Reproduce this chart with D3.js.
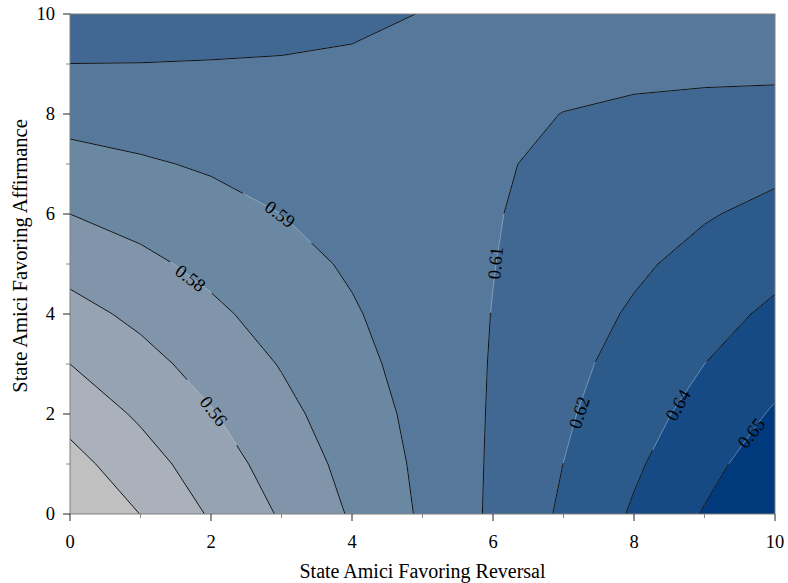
<!DOCTYPE html>
<html>
<head>
<meta charset="utf-8">
<script src="https://cdn.jsdelivr.net/npm/d3@7"></script>
<style>
  body { margin: 0; background: #fff; }
  svg { display: block; }
  text { font-family: "Liberation Serif", "Times New Roman", serif; fill: #000; }
</style>
</head>
<body>
<svg id="chart" width="788" height="583"></svg>
<script>
// Number of state amici on each side (grid axes)
const reversalAmici = [0, 1, 2, 3, 4, 5, 6, 7, 8, 9, 10];
const affirmanceAmici = [0, 1, 2, 3, 4, 5, 6, 7, 8, 9, 10];

// Predicted probability, one column per count of reversal amici,
// listed from 0 to 10 affirmance amici.
const rev0  = [0.515, 0.525, 0.535, 0.545, 0.555, 0.565, 0.575, 0.585, 0.595, 0.6049, 0.615];
const rev1  = [0.5302, 0.5387, 0.5472, 0.5552, 0.5633, 0.5717, 0.5800, 0.5884, 0.5966, 0.6048, 0.6131];
const rev2  = [0.5465, 0.5528, 0.5590, 0.5656, 0.5722, 0.5787, 0.5851, 0.5916, 0.5980, 0.6045, 0.6105];
const rev3  = [0.5615, 0.5663, 0.5711, 0.5758, 0.5806, 0.5853, 0.5900, 0.5947, 0.5994, 0.6042, 0.6089];
const rev4  = [0.5765, 0.5795, 0.5826, 0.5857, 0.5887, 0.5917, 0.5947, 0.5977, 0.6008, 0.6038, 0.6068];
const rev5  = [0.5920, 0.5930, 0.5942, 0.5958, 0.5970, 0.5980, 0.5990, 0.6000, 0.6010, 0.6025, 0.6048];
const rev6  = [0.6073, 0.6068, 0.6063, 0.6058, 0.6053, 0.6047, 0.6042, 0.6038, 0.6035, 0.6032, 0.6030];
const rev7  = [0.6223, 0.6201, 0.6179, 0.6158, 0.6137, 0.6115, 0.6094, 0.6072, 0.6051, 0.6030, 0.6008];
const rev8  = [0.6367, 0.6329, 0.6291, 0.6254, 0.6216, 0.6178, 0.6140, 0.6102, 0.6065, 0.6027, 0.5990];
const rev9  = [0.6510, 0.6457, 0.6403, 0.6350, 0.6296, 0.6243, 0.6189, 0.6134, 0.6079, 0.6024, 0.5969];
const rev10 = [0.6650, 0.6583, 0.6516, 0.6447, 0.6378, 0.6307, 0.6236, 0.6166, 0.6092, 0.6020, 0.5949];

// Contour levels and band colours (lowest band first)
const levels = [0.53, 0.545, 0.56, 0.575, 0.59, 0.605, 0.62, 0.635, 0.65];
const bandColors = ["#c0c0c0", "#aab1ba", "#95a3b2", "#8095aa", "#6b88a3",
                    "#56789b", "#406892", "#2c5a8b", "#164a84", "#003a7c"];

// Axis ticks
const majorTicks = [0, 2, 4, 6, 8, 10];
const minorTicks = [1, 3, 5, 7, 9];

// Where the inline level labels sit (data units), their angle and the gap cut in the line
const labelSpots = [
  { level: 0.56,  x: 2.04, y: 2.06, angle: 52,  gap: 82 },
  { level: 0.575, x: 1.71, y: 4.72, angle: 37,  gap: 52 },
  { level: 0.59,  x: 2.98, y: 6.00, angle: 37,  gap: 85 },
  { level: 0.605, x: 6.03, y: 5.02, angle: -85, gap: 100 },
  { level: 0.62,  x: 7.22, y: 2.03, angle: -72, gap: 106 },
  { level: 0.635, x: 8.62, y: 2.18, angle: -61, gap: 103 },
  { level: 0.65,  x: 9.66, y: 1.62, angle: -52, gap: 76 }
];

const margin = { left: 70, right: 13, top: 14, bottom: 69 };
const W = 788, H = 583;
const svg = d3.select("#chart");

const x = d3.scaleLinear().domain([0, 10]).range([margin.left, W - margin.right]);
const y = d3.scaleLinear().domain([0, 10]).range([H - margin.bottom, margin.top]);

// Grid in row-major order (row = affirmance count)
const columns = [rev0, rev1, rev2, rev3, rev4, rev5, rev6, rev7, rev8, rev9, rev10];
const nx = reversalAmici.length, ny = affirmanceAmici.length;
const values = new Array(nx * ny);
for (let j = 0; j < ny; j++) {
  for (let i = 0; i < nx; i++) values[j * nx + i] = columns[i][j];
}

const contours = d3.contours().size([nx, ny]).thresholds(levels)(values);

// Contour grid coordinates put sample i at i + 0.5
const gridProj = d3.geoTransform({
  point(px, py) {
    this.stream.point(x(reversalAmici[0] + px - 0.5), y(affirmanceAmici[0] + py - 0.5));
  }
});
const path = d3.geoPath(gridProj);

const defs = svg.append("defs");
defs.append("clipPath").attr("id", "plotClip")
  .append("rect")
  .attr("x", x(0)).attr("y", y(10))
  .attr("width", x(10) - x(0)).attr("height", y(0) - y(10));

// Mask that opens gaps in the lines where labels go
const mask = defs.append("mask").attr("id", "labelGaps")
  .attr("maskUnits", "userSpaceOnUse")
  .attr("x", 0).attr("y", 0).attr("width", W).attr("height", H);
mask.append("rect").attr("x", 0).attr("y", 0).attr("width", W).attr("height", H).attr("fill", "#fff");
mask.selectAll("rect.gap").data(labelSpots).join("rect")
  .attr("class", "gap")
  .attr("x", d => -d.gap / 2).attr("y", -6)
  .attr("width", d => d.gap).attr("height", 12)
  .attr("fill", "#000")
  .attr("transform", d => `translate(${x(d.x)},${y(d.y)}) rotate(${d.angle})`);

const plot = svg.append("g").attr("clip-path", "url(#plotClip)");

// Filled bands
plot.append("rect")
  .attr("x", x(0)).attr("y", y(10))
  .attr("width", x(10) - x(0)).attr("height", y(0) - y(10))
  .attr("fill", bandColors[0]);

plot.append("g").selectAll("path").data(contours).join("path")
  .attr("d", path)
  .attr("fill", (d, i) => bandColors[i + 1])
  .attr("stroke", (d, i) => bandColors[i + 1])
  .attr("stroke-width", 0.3);

// Faint trace of each line through the label gaps
plot.append("g").selectAll("path").data(contours).join("path")
  .attr("d", path)
  .attr("fill", "none")
  .attr("stroke", "#d6e0ea")
  .attr("stroke-opacity", 0.6)
  .attr("stroke-width", 0.7);

// Contour lines
plot.append("g").attr("mask", "url(#labelGaps)")
  .selectAll("path").data(contours).join("path")
  .attr("d", path)
  .attr("fill", "none")
  .attr("stroke", "#000")
  .attr("stroke-width", 0.9)
  .attr("stroke-linejoin", "round");

// Level labels
const fmt = v => (Math.round(v * 100 + 1e-6) / 100).toFixed(2);
plot.append("g").selectAll("text").data(labelSpots).join("text")
  .attr("transform", d => `translate(${x(d.x)},${y(d.y)}) rotate(${d.angle})`)
  .attr("text-anchor", "middle")
  .attr("dy", "0.35em")
  .attr("font-size", 18.5)
  .text(d => fmt(d.level));

// Frame
svg.append("rect")
  .attr("x", x(0)).attr("y", y(10))
  .attr("width", x(10) - x(0)).attr("height", y(0) - y(10))
  .attr("fill", "none")
  .attr("stroke", "#808080")
  .attr("stroke-width", 1);

// Bottom axis
const xAxis = svg.append("g");
xAxis.selectAll("line.major").data(majorTicks).join("line")
  .attr("x1", d => x(d)).attr("x2", d => x(d))
  .attr("y1", y(0)).attr("y2", y(0) + 7)
  .attr("stroke", "#222").attr("stroke-width", 1);
xAxis.selectAll("line.minor").data(minorTicks).join("line")
  .attr("x1", d => x(d)).attr("x2", d => x(d))
  .attr("y1", y(0)).attr("y2", y(0) + 4)
  .attr("stroke", "#888").attr("stroke-width", 1);
xAxis.selectAll("text").data(majorTicks).join("text")
  .attr("x", d => x(d)).attr("y", 548)
  .attr("text-anchor", "middle")
  .attr("font-size", 18.5)
  .text(d => d);

// Left axis
const yAxis = svg.append("g");
yAxis.selectAll("line.major").data(majorTicks).join("line")
  .attr("x1", x(0) - 7).attr("x2", x(0))
  .attr("y1", d => y(d)).attr("y2", d => y(d))
  .attr("stroke", "#222").attr("stroke-width", 1);
yAxis.selectAll("line.minor").data(minorTicks).join("line")
  .attr("x1", x(0) - 4).attr("x2", x(0))
  .attr("y1", d => y(d)).attr("y2", d => y(d))
  .attr("stroke", "#888").attr("stroke-width", 1);
yAxis.selectAll("text").data(majorTicks).join("text")
  .attr("x", 55).attr("y", d => y(d))
  .attr("dy", "0.35em")
  .attr("text-anchor", "end")
  .attr("font-size", 18.5)
  .text(d => d);

// Axis titles
svg.append("text")
  .attr("x", (x(0) + x(10)) / 2).attr("y", 578)
  .attr("text-anchor", "middle")
  .attr("font-size", 20)
  .text("State Amici Favoring Reversal");

svg.append("text")
  .attr("transform", `translate(27,${(y(0) + y(10)) / 2 - 8}) rotate(-90)`)
  .attr("text-anchor", "middle")
  .attr("font-size", 20.5)
  .text("State Amici Favoring Affirmance");
</script>
</body>
</html>
